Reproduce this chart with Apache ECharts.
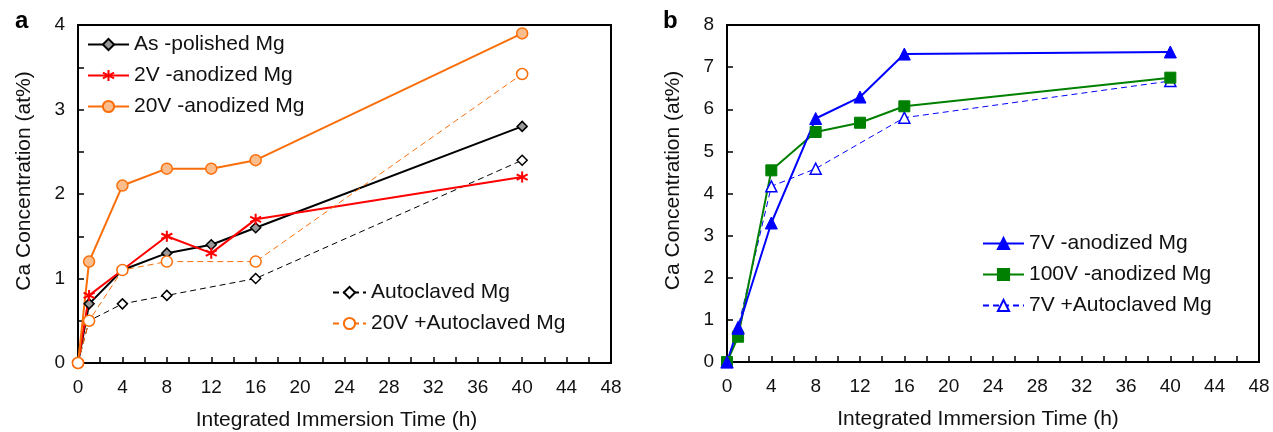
<!DOCTYPE html>
<html>
<head>
<meta charset="utf-8">
<script src="https://cdn.jsdelivr.net/npm/echarts@6/dist/echarts.min.js"></script>
<style>
  html, body { margin: 0; padding: 0; background: #fff; }
  #chart { width: 1273px; height: 432px; }
</style>
</head>
<body>
<div id="chart"></div>
<script>
// 面板 a：时间点
const timesA = [0, 1, 4, 8, 12, 16, 40];
const timesAuto = [0, 1, 4, 8, 16, 40];
const asPolished = [0, 0.7, 1.1, 1.3, 1.4, 1.6, 2.8];
const anod2V = [0, 0.8, 1.1, 1.5, 1.3, 1.7, 2.2];
const anod20V = [0, 1.2, 2.1, 2.3, 2.3, 2.4, 3.9];
const autoclaved = [0, 0.5, 0.7, 0.8, 1.0, 2.4];
const auto20V = [0, 0.5, 1.1, 1.2, 1.2, 3.42];

// 面板 b
const timesB = [0, 1, 4, 8, 12, 16, 40];
const timesB2 = [0, 1, 4, 8, 16, 40];
const anod7V = [0, 0.8, 3.3, 5.78, 6.29, 7.31, 7.36];
const anod100V = [0, 0.6, 4.55, 5.46, 5.68, 6.07, 6.75];
const auto7V = [0, 0.82, 4.17, 4.59, 5.8, 6.67];

const xTicks = { min: 0, max: 48, interval: 4 };
const yTicksA = { min: 0, max: 4, interval: 1 };
const yTicksB = { min: 0, max: 8, interval: 1 };

const FONT = '"Liberation Sans", Arial, sans-serif';
const TXT = '#111';
const ORANGE = '#FA6E0A';
const ASTERISK = 'path://M5,0L5,10M0.7,2.5L9.3,7.5M0.7,7.5L9.3,2.5';

function pairs(xs, ys) {
  return xs.map((x, i) => [x, ys[i]]);
}

function xAxis(gridIndex, shiftLeft) {
  return {
    type: 'value',
    gridIndex: gridIndex,
    min: xTicks.min,
    max: xTicks.max,
    interval: xTicks.interval,
    name: 'Integrated Immersion Time (h)',
    nameLocation: 'middle',
    nameGap: 47,
    nameTextStyle: { fontFamily: FONT, fontSize: 21, color: TXT, padding: [0, shiftLeft * 2, 0, 0] },
    axisLine: { show: true, onZero: false, lineStyle: { color: '#000', width: 2 } },
    axisTick: { show: true, inside: true, length: 6, lineStyle: { color: '#000', width: 1.5 } },
    minorTick: { show: true, splitNumber: 2, length: 6, lineStyle: { color: '#000', width: 1.5 } },
    axisLabel: { fontFamily: FONT, fontSize: 19, color: TXT, margin: 15 },
    splitLine: { show: false }
  };
}

function yAxis(gridIndex, t, minor) {
  return {
    type: 'value',
    gridIndex: gridIndex,
    min: t.min,
    max: t.max,
    interval: t.interval,
    name: 'Ca Concentration (at%)',
    nameLocation: 'middle',
    nameGap: 43,
    // 名称整体略向上偏
    nameTextStyle: { fontFamily: FONT, fontSize: 21, color: TXT, padding: [0, 0, 0, 26] },
    axisLine: { show: true, onZero: false, lineStyle: { color: '#000', width: 2 } },
    axisTick: { show: true, inside: true, length: 6, lineStyle: { color: '#000', width: 1.5 } },
    minorTick: { show: minor, splitNumber: 2, length: 6, lineStyle: { color: '#000', width: 1.5 } },
    axisLabel: { fontFamily: FONT, fontSize: 19, color: TXT, margin: 13 },
    splitLine: { show: false }
  };
}

const legendText = { fontFamily: FONT, fontSize: 21, color: TXT };

const chart = echarts.init(document.getElementById('chart'));
chart.setOption({
  animation: false,
  backgroundColor: '#fff',
  title: [
    { text: 'a', left: 10, top: 4, textStyle: { fontFamily: FONT, fontSize: 24, fontWeight: 'bold', color: '#000' } },
    { text: 'b', left: 658, top: 4, textStyle: { fontFamily: FONT, fontSize: 24, fontWeight: 'bold', color: '#000' } }
  ],
  grid: [
    { left: 78, top: 25, width: 533, height: 338, outerBoundsMode: 'none', show: true, borderColor: '#000', borderWidth: 2, backgroundColor: 'transparent' },
    { left: 727, top: 25, width: 532, height: 337, outerBoundsMode: 'none', show: true, borderColor: '#000', borderWidth: 2, backgroundColor: 'transparent' }
  ],
  xAxis: [xAxis(0, 8), xAxis(1, 15)],
  yAxis: [yAxis(0, yTicksA, true), yAxis(1, yTicksB, false)],
  legend: [
    {
      left: 87, top: 34, orient: 'vertical', padding: 0, itemGap: 10,
      itemWidth: 41, itemHeight: 14, textStyle: legendText,
      data: ['As -polished Mg', '2V -anodized Mg', '20V -anodized Mg']
    },
    {
      left: 332, top: 282, orient: 'vertical', padding: 0, itemGap: 10,
      itemWidth: 33, itemHeight: 14, textStyle: legendText,
      data: ['Autoclaved Mg', '20V +Autoclaved Mg']
    },
    {
      left: 982, top: 233, orient: 'vertical', padding: 0, itemGap: 10,
      itemWidth: 41, itemHeight: 14, textStyle: legendText,
      data: ['7V -anodized Mg', '100V -anodized Mg', '7V +Autoclaved Mg']
    }
  ],
  series: [
    {
      name: 'Autoclaved Mg', type: 'line', xAxisIndex: 0, yAxisIndex: 0,
      data: pairs(timesAuto, autoclaved),
      symbol: 'diamond', symbolSize: 10,
      lineStyle: { color: '#000', width: 1, type: [6, 4] },
      itemStyle: { color: '#fff', borderColor: '#000', borderWidth: 1.5 }
    },
    {
      name: 'As -polished Mg', type: 'line', xAxisIndex: 0, yAxisIndex: 0,
      data: pairs(timesA, asPolished),
      symbol: 'diamond', symbolSize: 10,
      lineStyle: { color: '#000', width: 2 },
      itemStyle: { color: '#999', borderColor: '#000', borderWidth: 1.5 }
    },
    {
      name: '2V -anodized Mg', type: 'line', xAxisIndex: 0, yAxisIndex: 0,
      data: pairs(timesA, anod2V),
      symbol: ASTERISK, symbolSize: 11,
      lineStyle: { color: '#FF0000', width: 2 },
      itemStyle: { color: 'none', borderColor: '#FF0000', borderWidth: 2 }
    },
    {
      name: '20V -anodized Mg', type: 'line', xAxisIndex: 0, yAxisIndex: 0,
      data: pairs(timesA, anod20V),
      symbol: 'circle', symbolSize: 11,
      lineStyle: { color: ORANGE, width: 2 },
      itemStyle: { color: '#FBBD8C', borderColor: ORANGE, borderWidth: 1.5 }
    },
    {
      name: '20V +Autoclaved Mg', type: 'line', xAxisIndex: 0, yAxisIndex: 0,
      data: pairs(timesAuto, auto20V),
      symbol: 'circle', symbolSize: 11,
      lineStyle: { color: ORANGE, width: 1, type: [6, 4] },
      itemStyle: { color: '#fff', borderColor: ORANGE, borderWidth: 1.5 }
    },
    {
      name: '7V +Autoclaved Mg', type: 'line', xAxisIndex: 1, yAxisIndex: 1,
      data: pairs(timesB2, auto7V),
      symbol: 'triangle', symbolSize: 11,
      lineStyle: { color: '#0000FF', width: 1, type: [6, 4] },
      itemStyle: { color: '#fff', borderColor: '#0000FF', borderWidth: 1.5 }
    },
    {
      name: '100V -anodized Mg', type: 'line', xAxisIndex: 1, yAxisIndex: 1,
      data: pairs(timesB, anod100V),
      symbol: 'rect', symbolSize: 11,
      lineStyle: { color: '#008000', width: 2 },
      itemStyle: { color: '#008000', borderColor: '#008000', borderWidth: 1 }
    },
    {
      name: '7V -anodized Mg', type: 'line', xAxisIndex: 1, yAxisIndex: 1,
      data: pairs(timesB, anod7V),
      symbol: 'triangle', symbolSize: 12,
      lineStyle: { color: '#0000FF', width: 2 },
      itemStyle: { color: '#0000FF', borderColor: '#0000FF', borderWidth: 1 }
    }
  ]
});
</script>
</body>
</html>
